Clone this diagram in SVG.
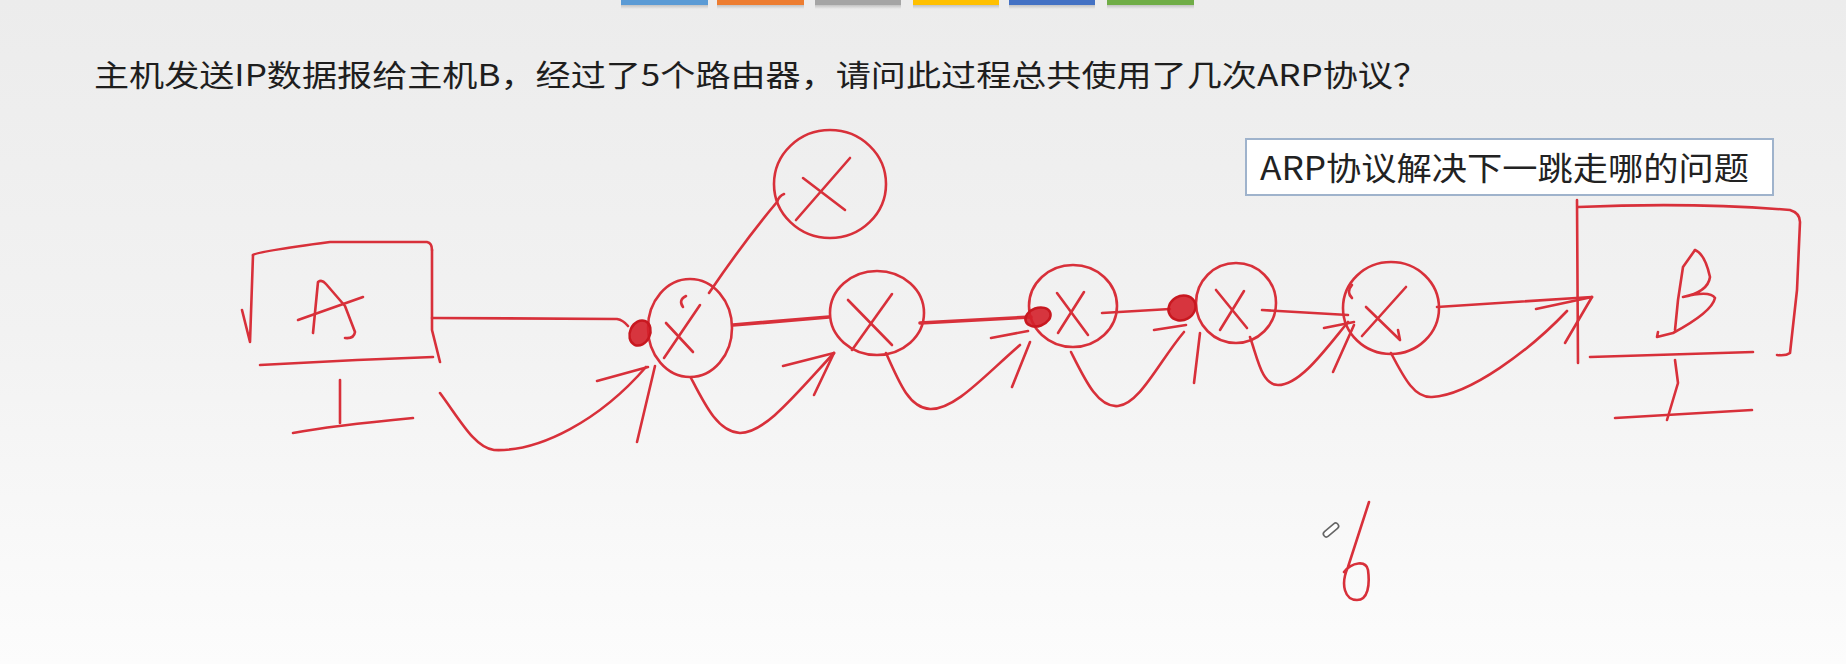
<svg xmlns="http://www.w3.org/2000/svg" width="1846" height="664" viewBox="0 0 1846 664">
<style>
.ink{fill:none;stroke:#d8303a;stroke-width:2.6;stroke-linecap:round;stroke-linejoin:round}
.thick{stroke-width:3.6}
.blob{fill:#d4202a;fill-opacity:0.9;stroke:#c81820;stroke-width:2.5}
.cjk{font-family:"Noto Sans CJK SC","Noto Sans",sans-serif}
</style>
<defs>
<linearGradient id="bg" x1="0" y1="0" x2="0" y2="1">
<stop offset="0" stop-color="#ececec"/>
<stop offset="0.5" stop-color="#f2f2f2"/>
<stop offset="1" stop-color="#fcfcfc"/>
</linearGradient>
<linearGradient id="sh" x1="0" y1="0" x2="0" y2="1">
<stop offset="0" stop-color="#999" stop-opacity="0.5"/>
<stop offset="1" stop-color="#999" stop-opacity="0"/>
</linearGradient>
</defs>
<rect width="1846" height="664" fill="url(#bg)"/>
<g id="tabs">
<rect x="621" y="5" width="87" height="4" fill="url(#sh)"/>
<rect x="717" y="5" width="87" height="4" fill="url(#sh)"/>
<rect x="815" y="5" width="86" height="4" fill="url(#sh)"/>
<rect x="913" y="5" width="86" height="4" fill="url(#sh)"/>
<rect x="1009" y="5" width="86" height="4" fill="url(#sh)"/>
<rect x="1107" y="5" width="87" height="4" fill="url(#sh)"/>
<rect x="621" y="0" width="87" height="5" fill="#5b9bd5"/>
<rect x="717" y="0" width="87" height="5" fill="#ed7d31"/>
<rect x="815" y="0" width="86" height="5" fill="#a5a5a5"/>
<rect x="913" y="0" width="86" height="5" fill="#ffc000"/>
<rect x="1009" y="0" width="86" height="5" fill="#4472c4"/>
<rect x="1107" y="0" width="87" height="5" fill="#70ad47"/>
</g>
<g id="title">
<text class="cjk" x="94" y="86" font-size="30" fill="#1e1e1e" textLength="1334" lengthAdjust="spacingAndGlyphs">主机发送IP数据报给主机B，经过了5个路由器，请问此过程总共使用了几次ARP协议？</text>
</g>
<g id="note">
<rect x="1246" y="139" width="527" height="56" fill="#fff" stroke="#9fb3cc" stroke-width="2"/>
<text class="cjk" x="1260" y="180" font-size="32" fill="#222" textLength="489" lengthAdjust="spacingAndGlyphs">ARP协议解决下一跳走哪的问题</text>
</g>
<g id="host-a">
<path class="ink" d="M242,310 L250,342 L253,255"/>
<path class="ink" d="M253,255 Q255,252 330,242 L427,242 Q432,243 432,250"/>
<path class="ink" d="M432,250 L432,330 L440,362"/>
<path class="ink" d="M260,365 L357,360 L433,357"/>
<path class="ink" d="M313,333 L318,282 Q322,279 326,284 L345,306 L355,332 Q354,339 345,338"/>
<path class="ink" d="M298,320 L363,297"/>
<path class="ink" d="M340,380 L340,423"/>
<path class="ink" d="M293,433 Q330,426 413,418"/>
</g>
<g id="router-0">
<ellipse class="ink" cx="830" cy="184" rx="56" ry="54"/>
<path class="ink" d="M796,220 L850,158"/>
<path class="ink" d="M803,178 L845,210"/>
</g>
<g id="router-1">
<ellipse class="ink" cx="690" cy="328" rx="42" ry="49"/>
<path class="ink" d="M666,323 L693,352"/>
<path class="ink" d="M664,358 L700,305"/>
<path class="ink" d="M686,296 Q678,300 683,307"/>
</g>
<g id="router-2">
<ellipse class="ink" cx="877" cy="313" rx="47" ry="42"/>
<path class="ink" d="M848,300 L892,345"/>
<path class="ink" d="M852,350 L892,294"/>
</g>
<g id="router-3">
<ellipse class="ink" cx="1073" cy="306" rx="44" ry="41"/>
<path class="ink" d="M1057,293 L1088,335"/>
<path class="ink" d="M1058,333 L1084,292"/>
</g>
<g id="router-4">
<ellipse class="ink" cx="1236" cy="303" rx="40" ry="40"/>
<path class="ink" d="M1216,290 L1247,328"/>
<path class="ink" d="M1220,330 L1244,291"/>
</g>
<g id="router-5">
<ellipse class="ink" cx="1391" cy="308" rx="48" ry="46"/>
<path class="ink" d="M1362,336 L1406,287"/>
<path class="ink" d="M1366,307 L1400,340 L1398,330"/>
<path class="ink" d="M1352,285 Q1346,292 1352,298"/>
</g>
<g id="host-b">
<path class="ink" d="M1577,200 L1578,363"/>
<path class="ink" d="M1578,207 Q1693,202 1790,210 Q1800,213 1800,222 L1797,290 L1790,353 Q1786,356 1777,355"/>
<path class="ink" d="M1590,357 L1753,352"/>
<path class="ink" d="M1695,250 L1683,267 L1678,300 L1675,330"/>
<path class="ink" d="M1695,250 Q1705,254 1710,277 Q1708,292 1683,297 Q1710,290 1715,298 Q1712,312 1673,333 L1657,337 L1658,332"/>
<path class="ink" d="M1675,360 L1678,383 L1667,420"/>
<path class="ink" d="M1615,418 L1752,410"/>
</g>
<g id="connectors">
<path class="ink" d="M432,318 L617,319 Q623,320 628,326"/>
<ellipse class="blob" cx="640" cy="333" rx="10" ry="13" transform="rotate(25 640 333)"/>
<path class="ink" d="M440,393 C460,420 475,448 494,450 C540,452 600,420 646,367"/>
<path class="ink" d="M597,381 L648,367"/>
<path class="ink" d="M637,442 L655,366"/>
<path class="ink" d="M709,293 Q745,240 777,202 Q779,196 784,194"/>
<path class="ink thick" d="M733,325 L829,317"/>
<path class="ink" d="M691,378 C705,405 718,432 740,433 C765,433 795,395 834,353"/>
<path class="ink" d="M783,366 L834,353"/>
<path class="ink" d="M814,395 L834,353"/>
<path class="ink thick" d="M920,323 L1031,317"/>
<ellipse class="blob" cx="1038" cy="317" rx="13" ry="9" transform="rotate(-20 1038 317)"/>
<path class="ink" d="M886,353 C900,385 910,408 930,409 C955,410 985,375 1020,345"/>
<path class="ink" d="M991,338 L1028,331"/>
<path class="ink" d="M1012,387 L1030,342"/>
<path class="ink" d="M1102,313 L1170,309"/>
<ellipse class="blob" cx="1182" cy="308" rx="14" ry="12" transform="rotate(-30 1182 308)"/>
<path class="ink" d="M1071,352 C1085,380 1098,408 1118,406 C1140,404 1160,360 1184,332"/>
<path class="ink" d="M1154,330 L1186,325"/>
<path class="ink" d="M1194,383 L1200,333"/>
<path class="ink" d="M1262,310 L1348,315"/>
<path class="ink" d="M1250,337 C1258,360 1262,385 1278,385 C1300,385 1325,350 1348,322"/>
<path class="ink" d="M1324,328 L1354,322"/>
<path class="ink" d="M1333,372 L1354,325"/>
<path class="ink" d="M1437,307 L1592,297"/>
<path class="ink" d="M1536,309 L1592,297"/>
<path class="ink" d="M1565,343 L1592,297"/>
<path class="ink" d="M1391,353 C1405,380 1415,398 1432,397 C1470,395 1530,350 1567,311"/>
</g>
<g id="answer">
<path class="ink" d="M1369,502 L1348,567 C1340,585 1345,600 1357,600 C1368,600 1370,585 1368,570 C1366,560 1352,562 1344,572"/>
<rect x="1322" y="527" width="18" height="6" rx="3" fill="#fff" stroke="#666" stroke-width="1.6" transform="rotate(-40 1331 530)"/>
</g>
</svg>
